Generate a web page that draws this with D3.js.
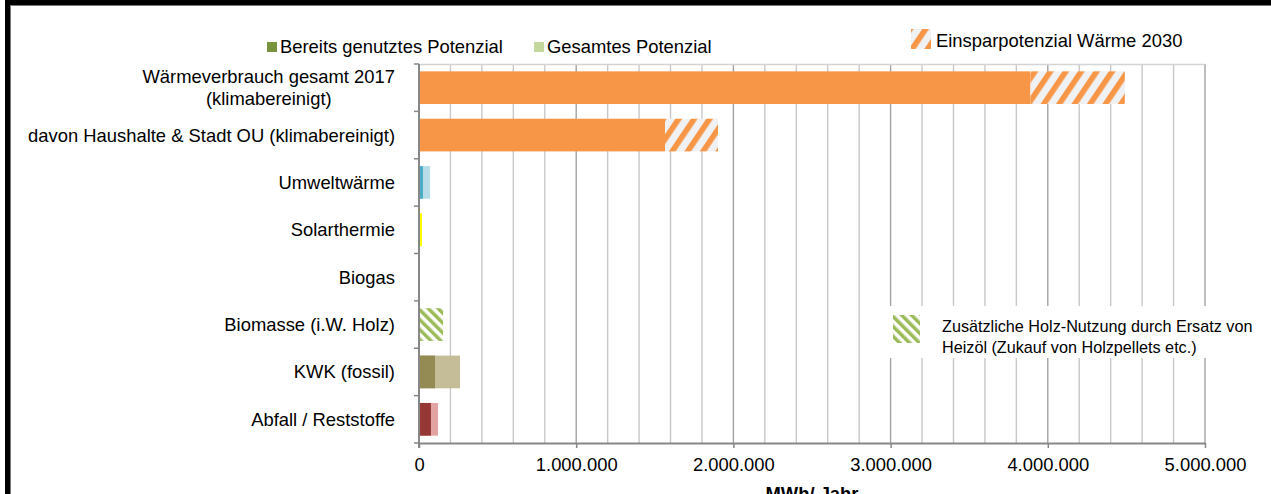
<!DOCTYPE html>
<html lang="de">
<head>
<meta charset="UTF-8">
<title>Wärme Potenziale</title>
<script src="https://d3js.org/d3.v7.min.js"></script>
<style>
  body { margin: 0; background: #fff; }
  text { font-family: Arial, "Liberation Sans", sans-serif; fill: #000; }
</style>
</head>
<body>
<script>
// categories (top to bottom)
var categories = [
    "Wärmeverbrauch gesamt 2017\n(klimabereinigt)",
    "davon Haushalte & Stadt OU (klimabereinigt)",
    "Umweltwärme",
    "Solarthermie",
    "Biogas",
    "Biomasse (i.W. Holz)",
    "KWK (fossil)",
    "Abfall / Reststoffe"
];
// MWh/Jahr
var verbrauch   = [3890000, 1565000, 0, 0, 0, 0, 0, 0];
var einsparung  = [600000, 337000, 0, 0, 0, 0, 0, 0];
var genutzt     = [0, 0, 25000, 19000, 0, 0, 102000, 76000];
var gesamt      = [0, 0, 70000, 19000, 0, 0, 261000, 121000];
var holzErsatz  = [0, 0, 0, 0, 0, 153000, 0, 0];
var darkColors  = ["", "", "#4bacc6", "#ffff00", "", "", "#948a54", "#953735"];
var lightColors = ["", "", "#b7dee8", "#ffff00", "", "", "#c4bd97", "#e2a3a2"];
var xTickValues = [0, 1000000, 2000000, 3000000, 4000000, 5000000];

var W = 1271, H = 494;
var margin = {top: 64, right: 66, bottom: 51, left: 419},
    width = W - margin.left - margin.right,
    height = H - margin.top - margin.bottom;
var fs = "18.4px";

var svg = d3.select("body").append("svg")
    .attr("width", W)
    .attr("height", H);

// patterns
var defs = svg.append("defs");
var pO = defs.append("pattern")
    .attr("id", "hatchOrange")
    .attr("patternUnits", "userSpaceOnUse")
    .attr("width", 12.8).attr("height", 12.8)
    .attr("patternTransform", "rotate(34)");
pO.append("rect").attr("width", 12.8).attr("height", 12.8).attr("fill", "#f0f1f3");
pO.append("rect").attr("width", 5.6).attr("height", 12.8).attr("fill", "#f79646");

var pG = defs.append("pattern")
    .attr("id", "hatchGreen")
    .attr("patternUnits", "userSpaceOnUse")
    .attr("width", 7).attr("height", 7)
    .attr("patternTransform", "rotate(-45)");
pG.append("rect").attr("width", 7).attr("height", 7).attr("fill", "#ffffff");
pG.append("rect").attr("width", 3.5).attr("height", 7).attr("fill", "#9bbb59");

// frame of the original picture
svg.append("rect").attr("x", 5).attr("y", 0).attr("width", 5).attr("height", H).attr("fill", "#000");
svg.append("rect").attr("x", 5).attr("y", 0).attr("width", W - 5).attr("height", 5).attr("fill", "#000");
svg.append("line").attr("x1", 10.5).attr("x2", 10.5).attr("y1", 5).attr("y2", H).attr("stroke", "#7a7a7a");
svg.append("line").attr("x1", 10).attr("x2", W).attr("y1", 5.5).attr("y2", 5.5).attr("stroke", "#7a7a7a");

var g = svg.append("g")
    .attr("transform", "translate(" + margin.left + "," + margin.top + ")");

var x = d3.scaleLinear()
    .domain([0, 5000000])
    .range([0, width]);

var y = d3.scaleBand()
    .domain(categories)
    .range([0, height])
    .paddingInner(0.31)
    .paddingOuter(0.155);

// gridlines
var grid = x.ticks(25).filter(function(d) { return d > 0; });
g.selectAll(".grid")
    .data(grid)
    .enter()
    .append("line")
    .attr("x1", function(d) { return x(d); })
    .attr("x2", function(d) { return x(d); })
    .attr("y1", 0)
    .attr("y2", height)
    .attr("stroke", function(d) { return d % 1000000 === 0 ? "#a3a3a3" : "#c8c8c8"; })
    .attr("stroke-width", 1.4);
g.append("line")
    .attr("x1", 0).attr("x2", width).attr("y1", 0.5).attr("y2", 0.5)
    .attr("stroke", "#d4d4d4").attr("stroke-width", 1.4);

// consumption bars + savings
g.selectAll(".verbrauch")
    .data(categories)
    .enter()
    .append("rect")
    .attr("x", 0)
    .attr("y", function(d) { return y(d); })
    .attr("width", function(d, i) { return x(verbrauch[i]); })
    .attr("height", y.bandwidth())
    .attr("fill", "#f79646");
g.selectAll(".einsparung")
    .data(categories)
    .enter()
    .append("rect")
    .attr("x", function(d, i) { return x(verbrauch[i]); })
    .attr("y", function(d) { return y(d); })
    .attr("width", function(d, i) { return x(verbrauch[i] + einsparung[i]) - x(verbrauch[i]); })
    .attr("height", y.bandwidth())
    .attr("fill", "url(#hatchOrange)");

// total potential (behind) and used potential (front)
g.selectAll(".gesamt")
    .data(categories)
    .enter()
    .append("rect")
    .attr("x", 0)
    .attr("y", function(d) { return y(d); })
    .attr("width", function(d, i) { return x(gesamt[i]); })
    .attr("height", y.bandwidth())
    .attr("fill", function(d, i) { return lightColors[i] || "none"; });
g.selectAll(".genutzt")
    .data(categories)
    .enter()
    .append("rect")
    .attr("x", 0)
    .attr("y", function(d) { return y(d); })
    .attr("width", function(d, i) { return x(genutzt[i]); })
    .attr("height", y.bandwidth())
    .attr("fill", function(d, i) { return darkColors[i] || "none"; });
g.selectAll(".holz")
    .data(categories)
    .enter()
    .append("rect")
    .attr("x", 0)
    .attr("y", function(d) { return y(d); })
    .attr("width", function(d, i) { return x(holzErsatz[i]); })
    .attr("height", y.bandwidth())
    .attr("fill", "url(#hatchGreen)");

// x axis
var fmt = d3.formatLocale({decimal: ",", thousands: ".", grouping: [3], currency: ["", " €"]}).format(",d");
var xAxis = g.append("g")
    .attr("transform", "translate(0," + height + ")")
    .call(d3.axisBottom(x).tickValues(xTickValues).tickSize(5).tickSizeOuter(0).tickPadding(10).tickFormat(fmt));
xAxis.select(".domain").attr("stroke", "#878787").attr("stroke-width", 2);
xAxis.selectAll(".tick line").attr("stroke", "#878787").attr("stroke-width", 1.5);
xAxis.selectAll(".tick text").style("font-size", fs).style("font-family", "Arial, 'Liberation Sans', sans-serif").attr("fill", "#000");

// y axis: line, boundary ticks, labels
var half = (y.step() - y.bandwidth()) / 2;
var bounds = categories.map(function(c) { return y(c) - half; }).concat([height]);
g.append("line")
    .attr("x1", 0).attr("x2", 0).attr("y1", 0).attr("y2", height + 5)
    .attr("stroke", "#878787").attr("stroke-width", 2);
g.selectAll(".ytick")
    .data(bounds)
    .enter()
    .append("line")
    .attr("x1", -5).attr("x2", 0)
    .attr("y1", function(d) { return d; })
    .attr("y2", function(d) { return d; })
    .attr("stroke", "#878787").attr("stroke-width", 1.5);

categories.forEach(function(c) {
    var lines = c.split("\n");
    var cy = y(c) + y.bandwidth() / 2;
    var t = g.append("text")
        .style("font-size", fs)
        .attr("text-anchor", "end");
    if (lines.length === 1) {
        t.attr("x", -24).attr("y", cy).attr("dy", "0.35em").text(c);
    } else {
        var spans = lines.map(function(l, k) {
            return t.append("tspan")
                .attr("y", cy + (k - (lines.length - 1) / 2) * 22)
                .attr("dy", "0.35em")
                .text(l);
        });
        var maxW = d3.max(spans, function(s) { return s.node().getComputedTextLength(); });
        t.attr("text-anchor", "middle");
        spans.forEach(function(s) { s.attr("x", -24 - maxW / 2); });
    }
});

// x axis title (cut by the lower edge, as in the original)
g.append("text")
    .attr("x", width / 2)
    .attr("y", height + 57)
    .attr("text-anchor", "middle")
    .style("font-size", fs)
    .style("font-weight", "bold")
    .text("MWh/ Jahr");

// legend top
var legend1 = [
    {label: "Bereits genutztes Potenzial", color: "#77933c", x: 267},
    {label: "Gesamtes Potenzial", color: "#c3d69b", x: 534}
];
legend1.forEach(function(l) {
    svg.append("rect").attr("x", l.x).attr("y", 42).attr("width", 10).attr("height", 10).attr("fill", l.color);
    svg.append("text").attr("x", l.x + 13).attr("y", 53.3).style("font-size", fs).text(l.label);
});
svg.append("rect").attr("x", 911).attr("y", 29).attr("width", 20).attr("height", 20).attr("fill", "url(#hatchOrange)");
svg.append("text").attr("x", 936).attr("y", 47.3).style("font-size", fs).text("Einsparpotenzial Wärme 2030");

// legend inside plot
svg.append("rect").attr("x", 885).attr("y", 306).attr("width", 378).attr("height", 52).attr("fill", "#fff");
svg.append("rect").attr("x", 893).attr("y", 315).attr("width", 27).attr("height", 28).attr("fill", "url(#hatchGreen)");
var note = svg.append("text").style("font-size", "16.2px");
note.append("tspan").attr("x", 942).attr("y", 331.7).text("Zusätzliche Holz-Nutzung durch Ersatz von");
note.append("tspan").attr("x", 942).attr("y", 353).text("Heizöl (Zukauf von Holzpellets etc.)");
</script>
</body>
</html>
